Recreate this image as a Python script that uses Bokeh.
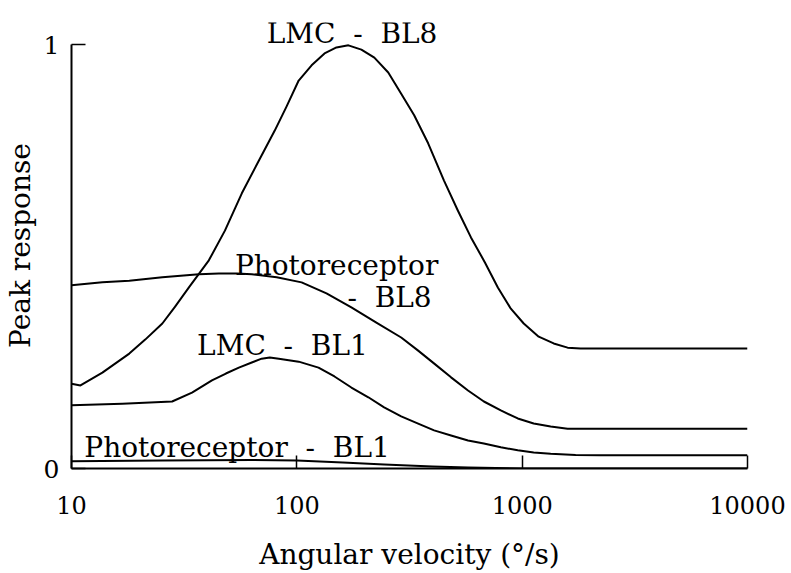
from bokeh.plotting import figure
from bokeh.models import Range1d, FixedTicker, Label, BasicTickFormatter
from bokeh.embed import file_html
from bokeh.resources import INLINE

# ---- data (angular velocity in deg/s, peak response) ----
lmc_bl8_x = [10, 10.96, 13.71, 18.05, 21.24, 25.3, 28.83, 33.2, 40.7, 47.96, 57.0, 67.8, 79.8,
             90.1, 101.9, 116.3, 132.7, 149.9, 169.4, 193.4, 220.8, 254.5, 290.5, 331.7, 382.6,
             449.9, 518.8, 592.6, 683.5, 780, 890.6, 1016, 1184, 1380, 1591, 1816, 2224, 10000]
lmc_bl8_y = [0.200, 0.196, 0.226, 0.271, 0.304, 0.342, 0.382, 0.427, 0.491, 0.561, 0.649, 0.726,
             0.797, 0.854, 0.915, 0.951, 0.979, 0.993, 0.998, 0.988, 0.969, 0.934, 0.884, 0.833,
             0.767, 0.679, 0.608, 0.545, 0.486, 0.427, 0.377, 0.342, 0.311, 0.295, 0.285, 0.283,
             0.283, 0.283]

pr_bl8_x = [10, 13.71, 18.05, 25.3, 36.8, 45.1, 54.2, 63.1, 81.4, 105, 135.4, 174.6, 225.4, 290.5,
            345.5, 406, 483.5, 575, 676.3, 804, 956, 1125, 1338, 1591, 2224, 10000]
pr_bl8_y = [0.432, 0.439, 0.443, 0.451, 0.458, 0.460, 0.460, 0.458, 0.451, 0.439, 0.413, 0.380,
            0.344, 0.309, 0.278, 0.248, 0.215, 0.184, 0.158, 0.137, 0.118, 0.106, 0.099, 0.094,
            0.094, 0.094]

lmc_bl1_x = [10, 16.81, 27.96, 34.26, 42.0, 48.44, 55.3, 63.1, 69.8, 75.83, 83.2, 101.9, 124.8,
             146.9, 174.6, 207.7, 244, 290.5, 345.5, 406.6, 483.5, 575, 676, 804, 956, 1125, 1338,
             1726, 2224, 10000]
lmc_bl1_y = [0.149, 0.153, 0.158, 0.179, 0.208, 0.224, 0.238, 0.250, 0.259, 0.262, 0.259, 0.252,
             0.238, 0.217, 0.191, 0.168, 0.144, 0.123, 0.106, 0.090, 0.078, 0.066, 0.059, 0.050,
             0.043, 0.038, 0.035, 0.032, 0.031, 0.031]

pr_bl1_x = [10, 25.3, 63.0, 100, 160, 244, 400, 575, 1000, 10000]
pr_bl1_y = [0.017, 0.019, 0.020, 0.019, 0.014, 0.0094, 0.0045, 0.0024, 0.0, 0.0]

x_ticks = [10, 100, 1000, 10000]
y_ticks = [0, 1]

NB = "\u00a0"
labels = [
    ("LMC" + NB * 2 + "-" + NB * 2 + "BL8", 73.5, 1.026),
    ("Photoreceptor", 53.1, 0.479),
    ("-" + NB * 2 + "BL8", 167.7, 0.403),
    ("LMC" + NB * 2 + "-" + NB * 2 + "BL1", 36.1, 0.290),
    ("Photoreceptor" + NB * 2 + "-" + NB * 2 + "BL1", 11.4, 0.0495),
]

FONT = "DejaVu Serif"

p = figure(width=791, height=573, x_axis_type="log",
           x_range=Range1d(10, 10000), y_range=Range1d(0, 1.0519),
           output_backend="svg", toolbar_location=None,
           min_border_left=69, min_border_right=44, min_border_top=22, min_border_bottom=105,
           x_axis_label="Angular velocity (°/s)", y_axis_label="Peak response")
p.outline_line_color = None
p.grid.visible = False
p.background_fill_color = "white"
p.border_fill_color = "white"

for xs, ys in [(lmc_bl8_x, lmc_bl8_y), (pr_bl8_x, pr_bl8_y), (lmc_bl1_x, lmc_bl1_y), (pr_bl1_x, pr_bl1_y)]:
    p.line(xs, ys, line_color="black", line_width=2, line_join="round")

xa = p.xaxis[0]
xa.ticker = FixedTicker(ticks=x_ticks, minor_ticks=[])
xa.formatter = BasicTickFormatter(use_scientific=False)
xa.major_tick_in = 13
xa.major_tick_out = 0
xa.minor_tick_in = 0
xa.minor_tick_out = 0
xa.axis_line_width = 2
xa.axis_line_color = "black"
xa.major_tick_line_color = "black"
xa.major_tick_line_width = 1.5
xa.major_label_standoff = 27
xa.major_label_text_font = FONT
xa.major_label_text_font_size = "24px"
xa.major_label_text_color = "black"
xa.axis_label_text_font = FONT
xa.axis_label_text_font_size = "28px"
xa.axis_label_text_font_style = "normal"
xa.axis_label_text_color = "black"
xa.axis_label_standoff = 21

ya = p.yaxis[0]
ya.ticker = FixedTicker(ticks=y_ticks, minor_ticks=[])
ya.bounds = (0, 1)
ya.major_tick_in = 14
ya.major_tick_out = 0
ya.minor_tick_in = 0
ya.minor_tick_out = 0
ya.axis_line_width = 2
ya.axis_line_color = "black"
ya.major_tick_line_color = "black"
ya.major_tick_line_width = 1.5
ya.major_label_standoff = 12
ya.major_label_text_font = FONT
ya.major_label_text_font_size = "25px"
ya.major_label_text_color = "black"
ya.axis_label_text_font = FONT
ya.axis_label_text_font_size = "28px"
ya.axis_label_text_font_style = "normal"
ya.axis_label_text_color = "black"
ya.axis_label_standoff = 4

for text, lx, ly in labels:
    p.add_layout(Label(x=lx, y=ly, text=text, text_font=FONT, text_font_size="28px",
                       text_baseline="alphabetic", text_align="left", text_color="black"))

open("out.html", "w").write(file_html(p, INLINE))
